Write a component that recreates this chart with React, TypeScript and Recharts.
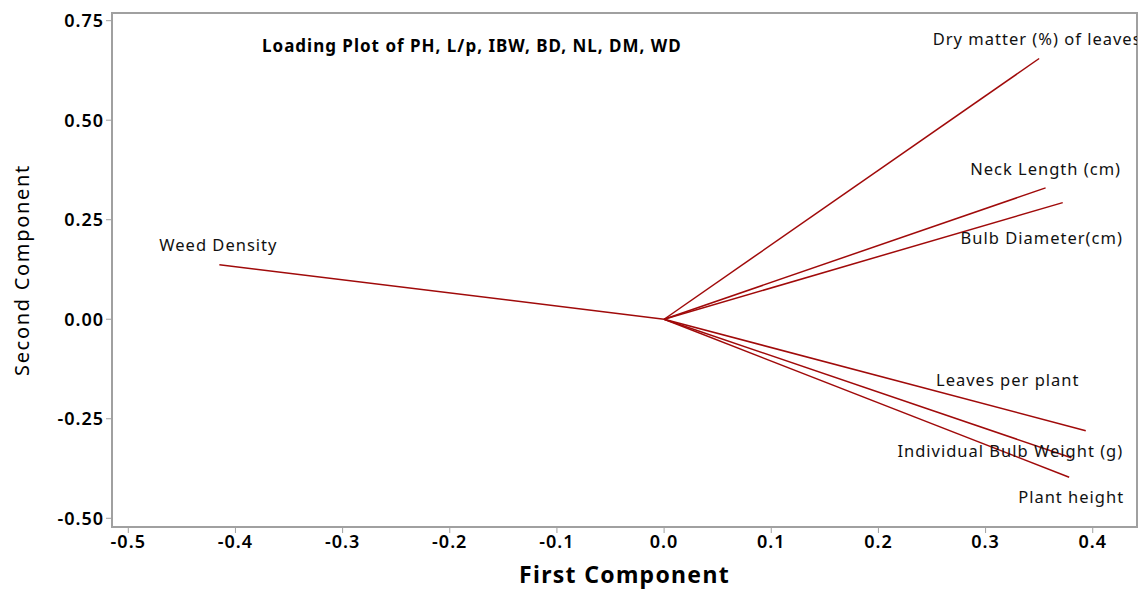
import { LineChart, Line, XAxis, YAxis, ReferenceArea, Label } from 'recharts'

// PCA loadings
const variables = [
  'Weed Density',
  'Dry matter (%) of leaves',
  'Neck Length (cm)',
  'Bulb Diameter(cm)',
  'Leaves per plant',
  'Individual Bulb Weight (g)',
  'Plant height',
]
const firstComponent  = [-0.415, 0.350, 0.356, 0.372, 0.3935, 0.380, 0.378]
const secondComponent = [ 0.137, 0.655, 0.330, 0.293, -0.280, -0.348, -0.397]

const xTicks = [-0.5, -0.4, -0.3, -0.2, -0.1, 0, 0.1, 0.2, 0.3, 0.4]
const yTicks = [-0.5, -0.25, 0, 0.25, 0.5, 0.75]

const X_DOMAIN: [number, number] = [-0.5152, 0.4413]
const Y_DOMAIN: [number, number] = [-0.5219, 0.7693]

// label offsets (px) from the end of each vector, same order as variables
const labelOffsets: [number, number][] = [
  [-1, -20], [-2, -20], [0, -19], [-21, 35], [-78, -51], [-61, -7], [2, 19],
]

const RED = '#a00a0a'
const FONT = '"Noto Sans", "Open Sans", sans-serif'
const tickStyle = { fill: '#000', fontSize: 18, fontWeight: 600, fontFamily: FONT, letterSpacing: 1 }

export default function App() {
  return (
    <div style={{ position: 'absolute', left: 0, top: 0, width: 1144, height: 590, background: '#fff', fontFamily: FONT }}>
      <LineChart width={1144} height={590} margin={{ top: 13, right: 7, bottom: 33, left: 52 }}>
        <XAxis
          type="number"
          dataKey="x"
          domain={X_DOMAIN}
          ticks={xTicks}
          allowDataOverflow
          tickFormatter={v => v.toFixed(1)}
          tick={tickStyle}
          axisLine={{ stroke: '#a0a0a0', strokeWidth: 2 }}
          tickLine={{ stroke: '#a0a0a0' }}
          tickSize={6}
          height={30}
        >
          <Label value="First Component" position="bottom" offset={10}
            style={{ fill: '#000', fontSize: 23, fontWeight: 700, fontFamily: FONT, letterSpacing: 1.3 }} />
        </XAxis>
        <YAxis
          type="number"
          dataKey="y"
          domain={Y_DOMAIN}
          ticks={yTicks}
          allowDataOverflow
          tickFormatter={v => v.toFixed(2)}
          tick={tickStyle}
          axisLine={{ stroke: '#a0a0a0', strokeWidth: 2 }}
          tickLine={{ stroke: '#a0a0a0' }}
          tickSize={6}
          width={60}
        >
          <Label value="Second Component" angle={-90} position="insideLeft" offset={-30}
            style={{ textAnchor: 'middle', fill: '#000', fontSize: 20, fontWeight: 400, fontFamily: FONT, letterSpacing: 1.7 }} />
        </YAxis>
        <ReferenceArea
          x1={X_DOMAIN[0]} x2={X_DOMAIN[1]} y1={Y_DOMAIN[0]} y2={Y_DOMAIN[1]}
          fill="none" stroke="#a0a0a0" strokeWidth={2} ifOverflow="visible"
        />
        {variables.map((name, i) => (
          <Line
            key={name}
            name={name}
            data={[{ x: 0, y: 0 }, { x: firstComponent[i], y: secondComponent[i] }]}
            dataKey="y"
            stroke={RED}
            strokeWidth={1.5}
            isAnimationActive={false}
            activeDot={false}
            dot={(p: any) =>
              p.index === 1 ? (
                <text key={`l${i}`} x={p.cx + labelOffsets[i][0]} y={p.cy + labelOffsets[i][1]}
                  textAnchor="middle" dominantBaseline="central"
                  style={{ fontSize: 16.5, fill: '#111', fontFamily: FONT, letterSpacing: 1 }}>
                  {name}
                </text>
              ) : <g key={`d${i}`} />
            }
          />
        ))}
      </LineChart>
      <div style={{ position: 'absolute', left: 262, top: 34, fontSize: 17, fontWeight: 700, letterSpacing: 1, color: '#000', whiteSpace: 'nowrap' }}>
        Loading Plot of PH, L/p, IBW, BD, NL, DM, WD
      </div>
    </div>
  )
}
